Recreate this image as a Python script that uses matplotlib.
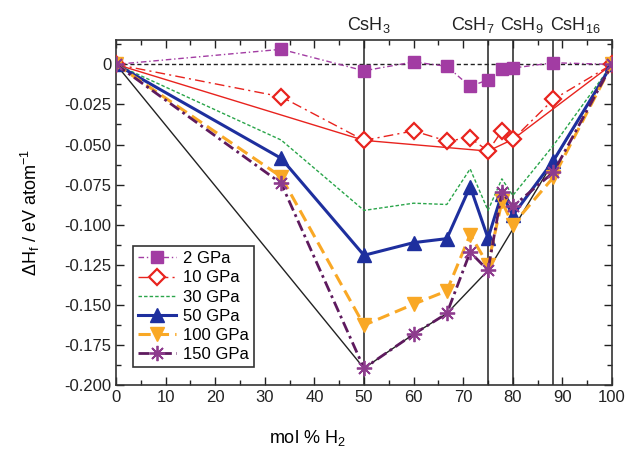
import numpy as np
import matplotlib
matplotlib.use("Agg")
import matplotlib.pyplot as plt
from matplotlib.ticker import MultipleLocator, FuncFormatter

plt.rcParams['font.family'] = ['Liberation Sans', 'DejaVu Sans']
plt.rcParams['mathtext.fontset'] = 'custom'
plt.rcParams['mathtext.rm'] = 'Liberation Sans'
plt.rcParams['mathtext.it'] = 'Liberation Sans:italic'

# mol % H2 of the CsHn compositions (CsH + x H2)
x_mol = [0, 33.3, 50, 60, 66.7, 71.4, 75, 77.8, 80, 88.2, 100]

# formation enthalpies, eV/atom
dh_2 = [0, 0.0094, -0.0040, 0.0015, -0.0012, -0.0138, -0.0096, -0.0031, -0.0023, 0.0010, 0]
dh_10 = [0, -0.0202, -0.0474, -0.0415, -0.0478, -0.0458, -0.0541, -0.0416, -0.0468, -0.0218, 0]
dh_30 = [0, -0.0472, -0.0911, -0.0866, -0.0874, -0.0652, -0.0911, -0.0714, -0.0818, -0.0505, 0]
dh_50 = [0, -0.0586, -0.1191, -0.1112, -0.1087, -0.0762, -0.1084, -0.0807, -0.0942, -0.0600, 0]
dh_100 = [0, -0.0701, -0.1627, -0.1496, -0.1413, -0.1062, -0.1250, -0.0855, -0.1000, -0.0704, 0]
dh_150 = [0, -0.0742, -0.1896, -0.1683, -0.1554, -0.1171, -0.1285, -0.0797, -0.0886, -0.0673, 0]

# convex hulls at 10 and 150 GPa
hull10_x = [0, 50, 75, 80, 100]
hull10_y = [0, -0.0474, -0.0541, -0.0468, 0]
hull150_x = [0, 50, 60, 66.7, 75, 100]
hull150_y = [0, -0.1896, -0.1683, -0.1554, -0.1285, 0]

# stable phases marked on top
phase_x = [50, 75, 80, 88.2]
phase_names = ['CsH$_3$', 'CsH$_7$', 'CsH$_9$', 'CsH$_{16}$']
phase_label_x = [50.9, 71.9, 81.8, 92.6]

fig = plt.figure(figsize=(6.31, 4.53), dpi=100)
ax = fig.add_axes([116 / 631, 1 - 385 / 453, 496 / 631, 345 / 453])

ax.plot([0, 100], [0, 0], color='#222222', lw=1.0, ls=(0, (3, 2)), zorder=1)
for xv in phase_x:
    ax.axvline(xv, color='#333333', lw=1.2, zorder=1)

ax.plot(hull10_x, hull10_y, color='#e8231e', lw=1.0, zorder=2)
ax.plot(hull150_x, hull150_y, color='#222222', lw=1.0, zorder=2)

ax.plot(x_mol, dh_2, color='#a23ca3', lw=1.0, ls=(0, (4, 2, 1, 2)),
        marker='s', ms=8, mfc='#a23ca3', mec='#a23ca3', label='2 GPa', zorder=3)
ax.plot(x_mol, dh_10, color='#e8231e', lw=1.0, ls=(0, (7, 3, 1.5, 3)),
        marker='D', ms=8, mfc='white', mec='#e8231e', mew=1.6, label='10 GPa', zorder=3)
ax.plot(x_mol, dh_30, color='#2aa54a', lw=1.0, ls=(0, (2.5, 1.5)),
        label='30 GPa', zorder=3)
ax.plot(x_mol, dh_50, color='#1e2f9e', lw=2.2,
        marker='^', ms=10, mfc='#1e2f9e', mec='#1e2f9e', label='50 GPa', zorder=4)
ax.plot(x_mol, dh_100, color='#f9a825', lw=2.2, ls=(0, (4, 2)),
        marker='v', ms=10, mfc='#f9a825', mec='#f9a825', label='100 GPa', zorder=4)
ax.plot(x_mol, dh_150, color='#5e1a5e', lw=2.0, ls=(0, (4, 1.5, 1, 1.5)),
        marker=(8, 2, 0), ms=11, mec='#8e3c8e', mew=1.3, label='150 GPa', zorder=5)

ax.set_xlim(0, 100)
ax.set_ylim(-0.2, 0.0152)
ax.xaxis.set_major_locator(MultipleLocator(10))
ax.xaxis.set_minor_locator(MultipleLocator(5))
ax.yaxis.set_major_locator(MultipleLocator(0.025))
ax.yaxis.set_minor_locator(MultipleLocator(0.0125))
ax.yaxis.set_major_formatter(FuncFormatter(lambda v, p: '0' if abs(v) < 1e-9 else '%.3f' % v))
ax.tick_params(which='both', direction='in', top=True, right=True, labelsize=12, colors='#222222')
ax.tick_params(which='major', length=6, width=1.0)
ax.tick_params(which='minor', length=3.5, width=1.0)
for sp in ax.spines.values():
    sp.set_linewidth(1.2)
    sp.set_color('#333333')

ax.set_xlabel('mol % H$_2$', fontsize=13)
ax.xaxis.set_label_coords(0.385, -0.125)
ax.set_ylabel(r'$\Delta$H$_\mathrm{f}$ / eV atom$^{-1}$', fontsize=13)
ax.yaxis.set_label_coords(-0.15, 0.5)

tr = ax.get_xaxis_transform()
for lx, name in zip(phase_label_x, phase_names):
    ax.text(lx, 1.029, name, transform=tr, ha='center', va='baseline', fontsize=13, color='#222222')

leg = ax.legend(loc='lower left', bbox_to_anchor=(0.034, 0.052), borderaxespad=0,
                fontsize=12, fancybox=False, edgecolor='#333333', framealpha=1,
                handlelength=2.3, handletextpad=0.4, labelspacing=0.25, borderpad=0.3)
leg.get_frame().set_linewidth(1.2)

fig.savefig('out.png', dpi=100)
